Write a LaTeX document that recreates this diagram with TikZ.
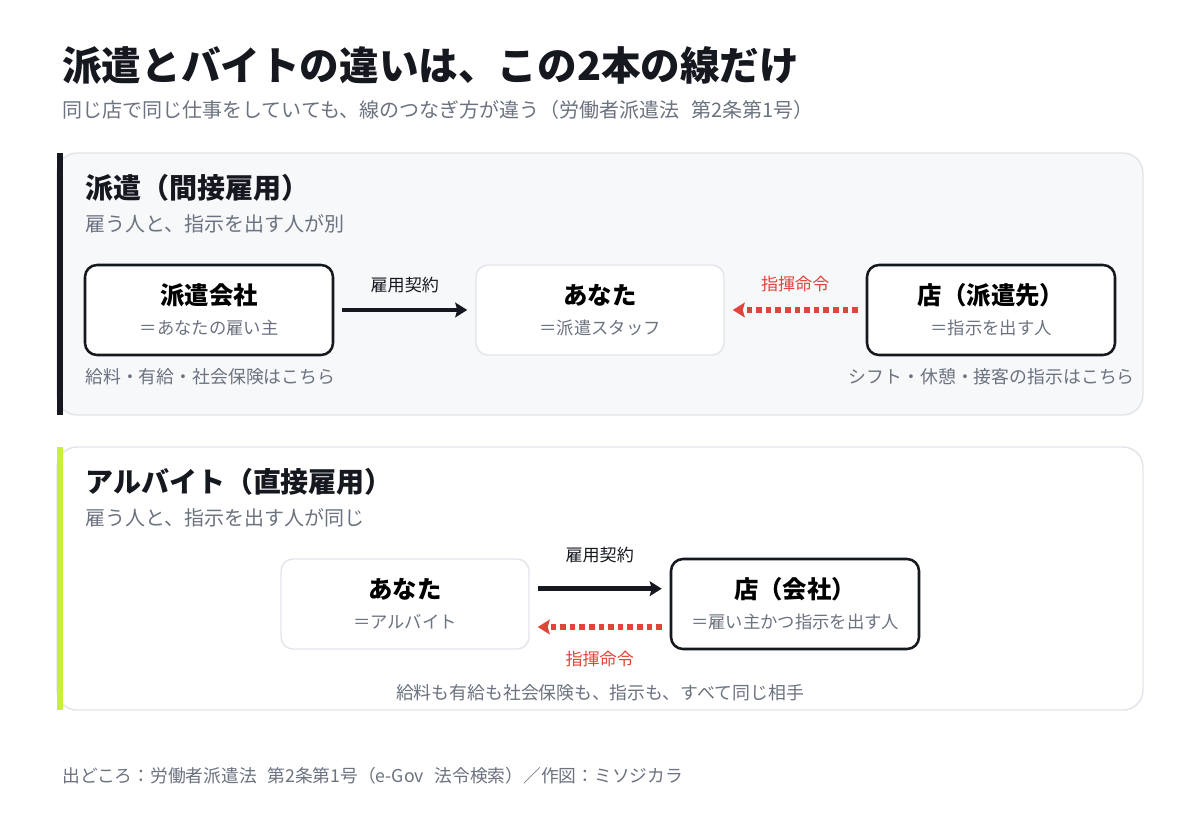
\documentclass[tikz,border=0pt]{standalone}
\usepackage{fontspec}
\setmainfont{Noto Sans CJK JP}
\usetikzlibrary{arrows.meta,positioning}

\definecolor{ink}{HTML}{15181E}
\definecolor{subgray}{HTML}{6B7280}
\definecolor{panelbg}{HTML}{F7F8FA}
\definecolor{panelline}{HTML}{E2E5EA}
\definecolor{cmdred}{HTML}{E0443A}
\definecolor{limebar}{HTML}{C8F03A}

\newcommand{\boxlabel}[2]{{\fontsize{18.3}{22.5}\selectfont\bfseries #1}\\{\color{subgray}#2}}

\tikzset{
  party/.style={draw=ink, line width=1.9pt, fill=white, rounded corners=9pt,
    minimum width=186pt, minimum height=67.5pt, align=center, inner sep=0pt,
    font=\fontsize{13}{22.5}\selectfont},
  you/.style={party, draw=panelline, line width=1.1pt},
  contract/.style={ink, line width=3.6pt, -{Stealth[length=9pt,width=11pt,inset=1.5pt]},
    shorten <=6pt, shorten >=6pt},
  command/.style={cmdred, line width=3.8pt, dash pattern=on 4.2pt off 3pt,
    -{Stealth[length=9pt,width=11pt,inset=1.5pt]}, shorten <=6pt, shorten >=6pt},
  txt/.style={inner sep=0pt, anchor=west},
}

\begin{document}
\begin{tikzpicture}[x=0.75pt,y=0.75pt,yscale=-1,xscale=1]
\useasboundingbox[fill=white] (0,0) rectangle (1200,820);

% Title
\node[txt, text=ink, font=\fontsize{29.7}{32}\selectfont\bfseries] (title) at (62,66) {派遣とバイトの違いは、この2本の線だけ};
\node[txt, text=subgray, font=\fontsize{15}{18}\selectfont] (subtitle) at (62,110) {同じ店で同じ仕事をしていても、線のつなぎ方が違う（労働者派遣法\hspace{0.6em}第2条第1号）};

%Panel: haken
\draw[panelline, line width=1.1pt, fill=panelbg, rounded corners=15] (57,153) rectangle (1143,415);
\fill[ink] (57,153) rectangle (63,415);
\node[txt, text=ink, font=\fontsize{21}{24}\selectfont\bfseries] (hakenhead) at (85,188) {派遣（間接雇用）};
\node[txt, text=subgray, font=\fontsize{15}{18}\selectfont] (hakensub) at (85,224) {雇う人と、指示を出す人が別};

\node[party] (agency) at (209,310) {\boxlabel{派遣会社}{＝あなたの雇い主}};
\node[you] (staff) at (600,310) {\boxlabel{あなた}{＝派遣スタッフ}};
\node[party] (client) at (991,310) {\boxlabel{店（派遣先）}{＝指示を出す人}};

\draw[contract] (agency) -- node[above=8pt, text=ink, font=\fontsize{12.8}{15}\selectfont] (contractA) {雇用契約} (staff);
\draw[command] (client) -- node[above=8pt, text=cmdred, font=\fontsize{12.8}{15}\selectfont] (commandA) {指揮命令} (staff);

\node[txt, text=subgray, font=\fontsize{13.4}{16}\selectfont] (agencynote) at (85,377) {給料・有給・社会保険はこちら};
\node[txt, anchor=east, text=subgray, font=\fontsize{13.4}{16}\selectfont] (clientnote) at (1135,377) {シフト・休憩・接客の指示はこちら};

%Panel: baito
\draw[panelline, line width=1.1pt, fill=white, rounded corners=15] (57,447) rectangle (1143,710);
\fill[limebar] (57,447) rectangle (63,710);
\node[txt, text=ink, font=\fontsize{21}{24}\selectfont\bfseries] (baitohead) at (85,482) {アルバイト（直接雇用）};
\node[txt, text=subgray, font=\fontsize{15}{18}\selectfont] (baitosub) at (85,518) {雇う人と、指示を出す人が同じ};

\node[you] (parttimer) at (405,604) {\boxlabel{あなた}{＝アルバイト}};
\node[party] (shop) at (795,604) {\boxlabel{店（会社）}{＝雇い主かつ指示を出す人}};

\draw[contract] ([yshift=-11.5pt]parttimer.east) -- node[above=14pt, text=ink, font=\fontsize{12.8}{15}\selectfont] (contractB) {雇用契約} ([yshift=-11.5pt]shop.west);
\draw[command] ([yshift=17.25pt]shop.west) -- node[below=13pt, text=cmdred, font=\fontsize{12.8}{15}\selectfont] (commandB) {指揮命令} ([yshift=17.25pt]parttimer.east);

\node[inner sep=0pt, text=subgray, font=\fontsize{13.4}{16}\selectfont] (samenote) at (600,693) {給料も有給も社会保険も、指示も、すべて同じ相手};

% Footer
\node[txt, text=subgray, font=\fontsize{13.3}{15}\selectfont] (source) at (62,776) {出どころ：労働者派遣法\hspace{0.6em}第2条第1号（e-Gov\hspace{0.6em}法令検索）／作図：ミソジカラ};
\end{tikzpicture}
\end{document}
